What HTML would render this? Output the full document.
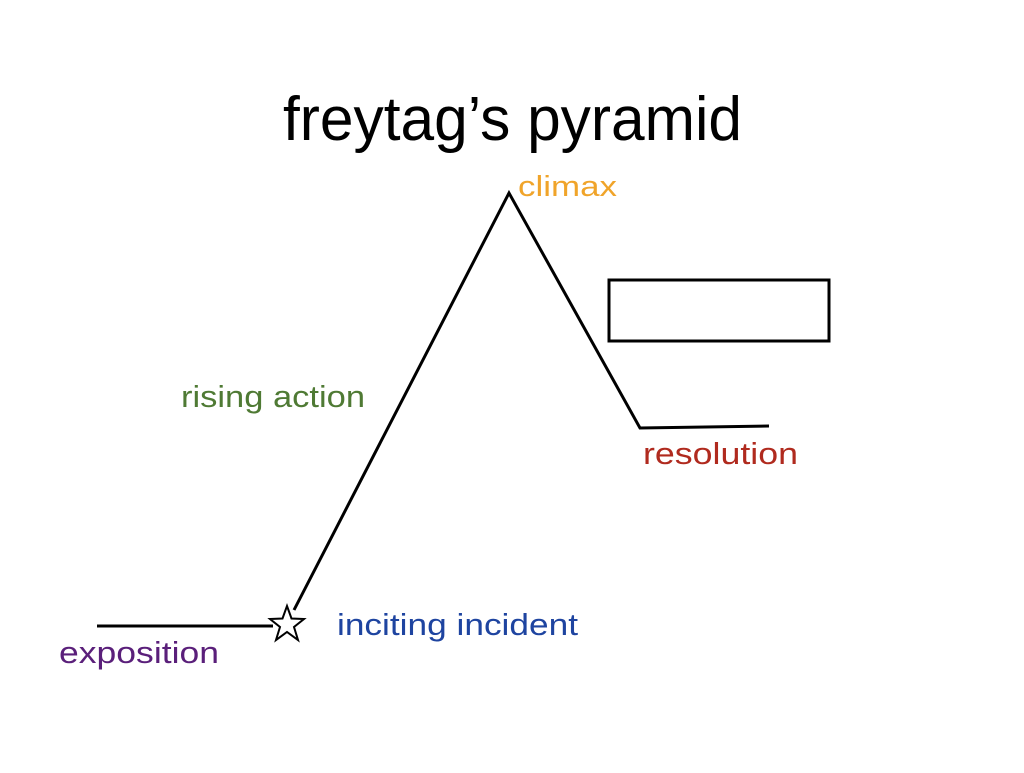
<!DOCTYPE html>
<html><head><style>html,body{margin:0;padding:0;background:#fff}</style></head>
<body>
<svg width="1024" height="768" viewBox="0 0 1024 768" xmlns="http://www.w3.org/2000/svg" font-family="Liberation Sans, sans-serif">
<rect width="1024" height="768" fill="#fff"/>
<text x="283" y="140" font-size="62" fill="#000" textLength="459" lengthAdjust="spacingAndGlyphs">freytag’s pyramid</text>
<g stroke="#000" stroke-width="3" fill="none">
<polyline points="97,626 273,626"/>
<polyline points="294,610 509,193 640,428 769,426"/>
<rect x="609" y="280" width="220" height="61"/>
</g>
<polygon points="287,606 291.5,618.5 304,619 294,627 298,640 287,632 276,640 280,627 270,619 282.5,618.5" fill="#fff" stroke="#000" stroke-width="2"/>
<text x="518" y="196" font-size="29" fill="#f0a42a" textLength="99" lengthAdjust="spacingAndGlyphs">climax</text>
<text x="181" y="407" font-size="31" fill="#4f7a34" textLength="184" lengthAdjust="spacingAndGlyphs">rising action</text>
<text x="643" y="464" font-size="31" fill="#b02a1e" textLength="155" lengthAdjust="spacingAndGlyphs">resolution</text>
<text x="337" y="635" font-size="31" fill="#1e44a0" textLength="241" lengthAdjust="spacingAndGlyphs">inciting incident</text>
<text x="59" y="663" font-size="31" fill="#5a1f7a" textLength="160" lengthAdjust="spacingAndGlyphs">exposition</text>
</svg>
</body></html>
